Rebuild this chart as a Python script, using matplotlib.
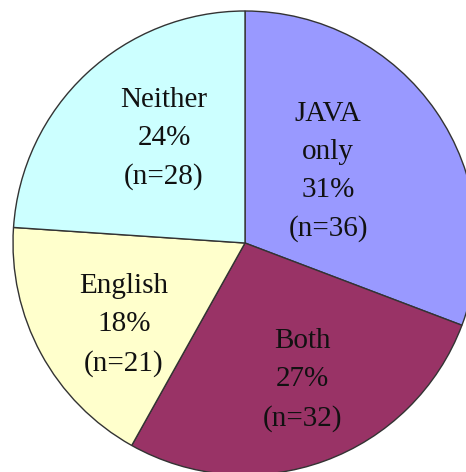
import numpy as np
import matplotlib
matplotlib.use("Agg")
import matplotlib.pyplot as plt

# data (clockwise from top)
labels = ["JAVA\nonly", "Both", "English", "Neither"]
counts = [36, 32, 21, 28]
percents = [31, 27, 18, 24]
colors = ["#9999ff", "#993366", "#ffffcc", "#ccffff"]

# label placement: fraction of radius and angle (deg) of each text block
label_dist = [0.472, 0.64, 0.63, 0.57]
label_ang = [40.7, -67.4, -145.9, 127.8]

fig = plt.figure(figsize=(4.66, 4.72), dpi=100)
ax = fig.add_axes([0, 0, 1, 1])

wedges, _ = ax.pie(counts, colors=colors, startangle=90, counterclock=False,
                   radius=1.0, wedgeprops=dict(edgecolor="#333333", linewidth=1.0))

for lab, n, p, d, a in zip(labels, counts, percents, label_dist, label_ang):
    t = np.deg2rad(a)
    ax.text(d * np.cos(t), d * np.sin(t), "%s\n%d%%\n(n=%d)" % (lab, p, n),
            ha="center", va="center", fontsize=21, family="Liberation Serif",
            linespacing=1.6, color="#111111")

# pie center sits at (245, 243) px with radius 232 px, slightly clipped
ax.set_xlim(-245 / 232, (466 - 245) / 232)
ax.set_ylim(-(472 - 243) / 232, 243 / 232)
ax.set_aspect("equal")
ax.axis("off")

fig.savefig("out.png", dpi=100)
